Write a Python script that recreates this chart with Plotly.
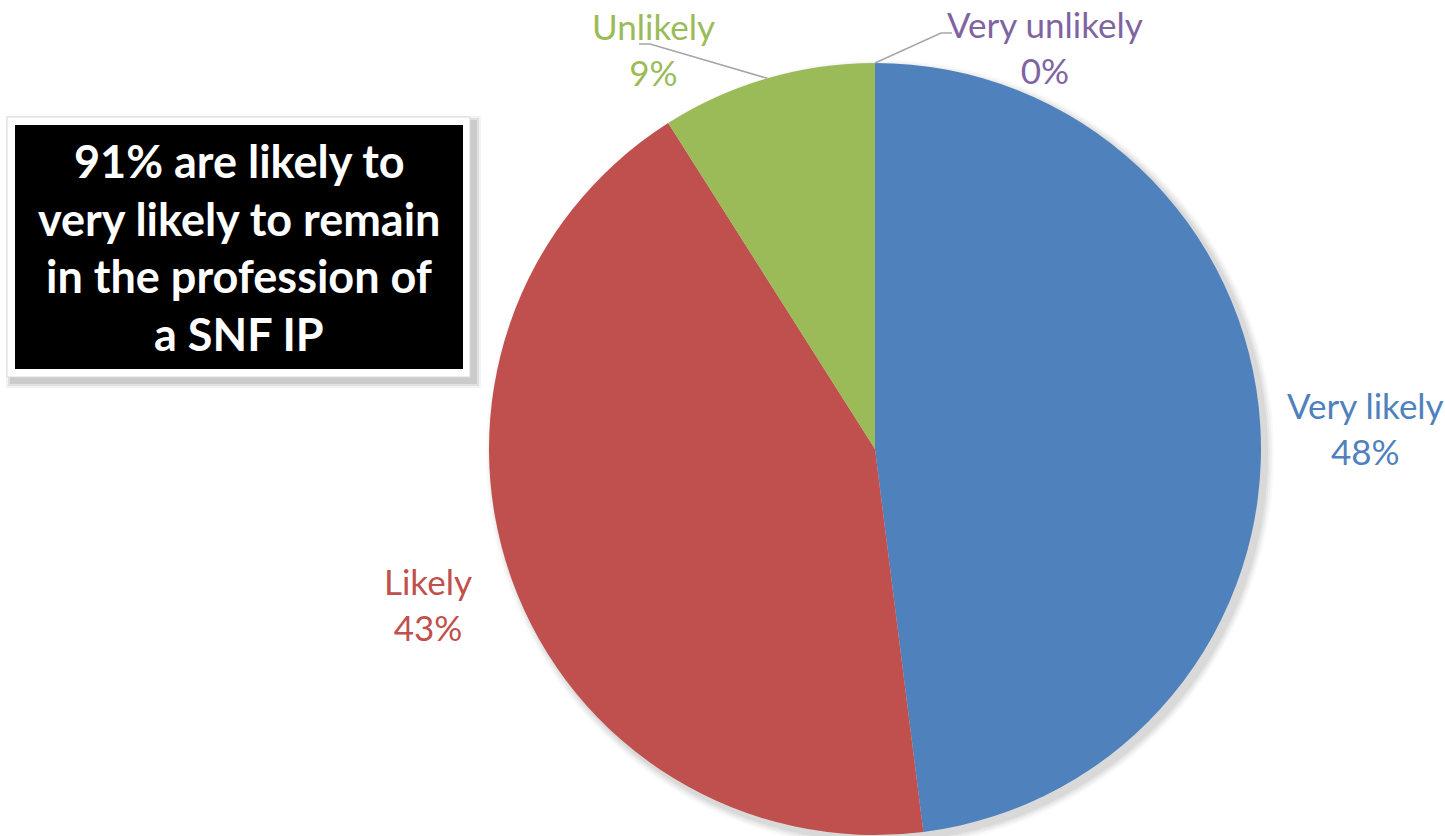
import math
import plotly.graph_objects as go

# ---- data ----
categories = ["Very likely", "Likely", "Unlikely", "Very unlikely"]
shares = [48, 43, 9, 0]
colors = ["#4F81BD", "#C0504D", "#9BBB59", "#8064A2"]
callout_lines = ["91% are likely to", "very likely to remain", "in the profession of", "a SNF IP"]

# ---- layout constants (pixels) ----
W, H = 1445, 836
CX, CY, R = 875, 449, 386
label_pos = {  # centre of the two-line label
    "Very likely": (1365, 428),
    "Likely": (428, 604),
    "Unlikely": (653, 49),
    "Very unlikely": (1045, 47),
}
leader_start = {  # where the leader line leaves the label
    "Unlikely": [(639, 44), (650, 44)],
    "Very unlikely": [(952, 33), (941, 33)],
}


def px(x):
    return x / W


def py(y):
    return 1 - y / H


fig = go.Figure(
    go.Pie(
        labels=categories,
        values=shares,
        sort=False,
        direction="clockwise",
        rotation=0,
        marker=dict(colors=colors, line=dict(width=0)),
        textinfo="none",
        hoverinfo="label+percent",
        showlegend=False,
        domain=dict(x=[(CX - R) / W, (CX + R) / W], y=[(H - CY - R) / H, (H - CY + R) / H]),
    )
)

shapes = []
# soft shadow behind the pie
for k, op in [(8, 0.025), (6, 0.035), (4, 0.045), (2, 0.05)]:
    shapes.append(dict(type="circle", xref="paper", yref="paper", layer="below",
                       x0=px(CX - R - k + 5), x1=px(CX + R + k + 5),
                       y0=py(CY + R + k + 5), y1=py(CY - R - k + 5),
                       fillcolor=f"rgba(0,0,0,{op})", line=dict(width=0)))

# callout box
for k, op in [(6, 0.05), (4, 0.07), (2, 0.09)]:
    shapes.append(dict(type="rect", xref="paper", yref="paper", x0=px(9 - k + 3), x1=px(472 + k + 3),
                       y0=py(379 + k + 3), y1=py(119 - k + 3),
                       fillcolor=f"rgba(0,0,0,{op})", line=dict(width=0)))
shapes.append(dict(type="rect", xref="paper", yref="paper", x0=px(7), x1=px(470), y0=py(377), y1=py(117),
                   fillcolor="white", line=dict(color="#d8d8d8", width=1)))
shapes.append(dict(type="rect", xref="paper", yref="paper", x0=px(15), x1=px(463), y0=py(369), y1=py(125),
                   fillcolor="black", line=dict(width=0)))

# leader lines from labels to slice mid-angle on the rim
total = sum(shares)
cum = 0
mid_angle = {}
for c, v in zip(categories, shares):
    mid_angle[c] = (cum + v / 2) / total * 2 * math.pi
    cum += v
for c, pts in leader_start.items():
    a = mid_angle[c]
    ex, ey = CX + R * math.sin(a), CY - R * math.cos(a)
    allpts = pts + [(ex, ey)]
    path = "M " + " L ".join(f"{px(x)},{py(y)}" for x, y in allpts)
    shapes.append(dict(type="path", xref="paper", yref="paper", path=path,
                       line=dict(color="#A6A6A6", width=1.5)))

annotations = []
for c, v, col in zip(categories, shares, colors):
    x, y = label_pos[c]
    annotations.append(dict(x=px(x), y=py(y), xref="paper", yref="paper", showarrow=False,
                            text=f"{c}<br>{v}%", align="center", xanchor="center", yanchor="middle",
                            font=dict(family="Lato", size=35, color=col)))

line_y = [161, 219, 276, 334]
for t, y in zip(callout_lines, line_y):
    annotations.append(dict(x=px(239), y=py(y), xref="paper", yref="paper", showarrow=False,
                            text=t, xanchor="center", yanchor="middle",
                            font=dict(family="Lato", size=45, color="white", weight="bold")))

fig.update_layout(
    width=W, height=H,
    margin=dict(l=0, r=0, t=0, b=0),
    paper_bgcolor="white", plot_bgcolor="white",
    shapes=shapes, annotations=annotations,
)

fig.write_html("out.html", config={"displayModeBar": False},
               post_script="document.body.style.margin='0';document.body.style.overflow='hidden';")
